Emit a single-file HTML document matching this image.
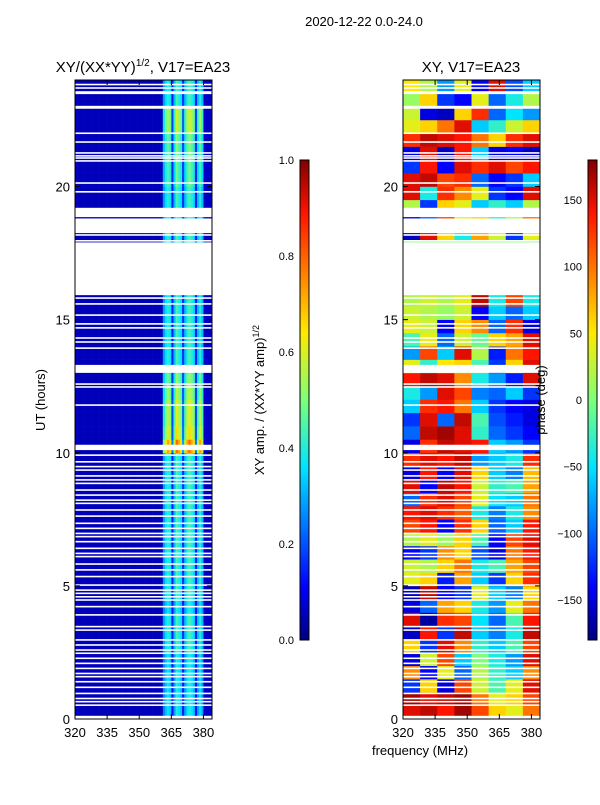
<!DOCTYPE html>
<html><head><meta charset="utf-8"><style>
body{margin:0;background:#fff;}
svg text{font-family:"Liberation Sans",sans-serif;fill:#000;}
</style></head><body>
<svg id="c" width="600" height="800" xmlns="http://www.w3.org/2000/svg">
<defs>
<linearGradient id="jet" x1="0" y1="1" x2="0" y2="0">
<stop offset="0" stop-color="#000080"/><stop offset="0.11" stop-color="#0000ff"/><stop offset="0.36" stop-color="#00e4ff"/><stop offset="0.5" stop-color="#7dff7a"/><stop offset="0.64" stop-color="#ffea00"/><stop offset="0.89" stop-color="#ff1300"/><stop offset="1" stop-color="#800000"/>
</linearGradient>
</defs>
<text x="364" y="26" font-size="13" text-anchor="middle">2020-12-22 0.0-24.0</text>
<text x="143" y="72" font-size="15" text-anchor="middle">XY/(XX*YY)<tspan font-size="10" dy="-6">1/2</tspan><tspan dy="6">, V17=EA23</tspan></text>
<text x="471" y="72" font-size="15" text-anchor="middle">XY, V17=EA23</text>
<g id="left"></g>
<g id="right"></g>
<rect x="75" y="80" width="137" height="639" fill="none" stroke="#000"/>
<rect x="403" y="80" width="137" height="639" fill="none" stroke="#000"/>
<g id="axes"></g>
<text transform="translate(45,400) rotate(-90)" font-size="13" text-anchor="middle">UT (hours)</text>
<text x="420" y="755" font-size="13" text-anchor="middle">frequency (MHz)</text>
<rect x="300" y="160" width="9" height="480" fill="url(#jet)" stroke="#000"/>
<rect x="588" y="160" width="9" height="480" fill="url(#jet)" stroke="#000"/>
<text transform="translate(264,400) rotate(-90)" font-size="13" text-anchor="middle">XY amp. / (XX*YY amp)<tspan font-size="9" dy="-5">1/2</tspan></text>
<text transform="translate(545,400) rotate(-90)" font-size="13" text-anchor="middle">phase (deg)</text>
</svg>
<script>
const colFreqs=[320,321,322,323,324,325,326,327,328,329,330,331,332,333,334,335,336,337,338,339,340,341,342,343,344,345,346,347,348,349,350,351,352,353,354,355,356,357,358,359,360,361,362,363,364,365,366,367,368,369,370,371,372,373,374,375,376,377,378,379,380,381,382,383];
const colProfile=[0.05,0.05,0.05,0.05,0.05,0.05,0.05,0.05,0.05,0.05,0.05,0.05,0.05,0.05,0.05,0.05,0.05,0.05,0.05,0.05,0.05,0.05,0.05,0.05,0.05,0.05,0.05,0.05,0.05,0.05,0.05,0.05,0.05,0.05,0.05,0.05,0.05,0.05,0.05,0.05,0.05,0.28,0.36,0.4,0.36,0.14,0.32,0.44,0.4,0.36,0.16,0.32,0.4,0.44,0.4,0.36,0.14,0.32,0.4,0.32,0.06,0.06,0.06,0.06];
const rowGain=[0.9,0.9,0.9,0.9,0.9,1,1,1,0.9,1,1,1,1,1,1,1,1,1,1,1,1.8,1.5,1.4,1.4,1.3,1.2,1,1,1,1,1,1,1,1,1,1,1,1,1,1,1.1,1.1,1.15,1.15,1.35,1.35,1,1];
const phaseGrid=[
[150,160,140,170,120,60,40,100],[170,150,160,170,100,40,60,120],[-120,60,-150,120,30,-20,40,150],[90,-140,40,-100,20,-30,-60,90],
[-150,30,120,-60,0,-40,-80,150],[60,-120,150,90,-30,-60,-20,120],[-160,140,-120,160,-60,-90,-40,160],[150,-170,130,120,-50,-100,-20,140],
[-150,-100,80,60,-40,-80,40,100],[-160,160,-140,-120,40,-60,-90,60],[40,60,-130,80,-60,-120,60,130],[30,20,60,100,-40,-20,80,120],
[-140,-120,90,60,-110,-150,100,140],[20,40,10,60,-20,-140,120,150],[120,140,-140,130,60,-100,-60,140],[140,150,130,110,-40,-90,-40,90],
[-100,130,150,120,40,-50,-60,100],[150,-140,160,140,30,-30,-20,80],[-150,140,-140,150,60,-60,-90,70],[130,150,140,160,-80,-60,-40,130],
[-150,130,160,150,140,-60,-80,-120],[-100,160,170,150,-30,-100,-120,-140],[-120,150,-100,160,-20,-110,-130,-150],[-60,130,140,100,-60,-120,-140,-150],
[-40,-80,150,120,-90,-100,-60,-120],[140,160,150,90,-40,-80,-130,150],[40,-30,50,60,-20,-120,60,150],[-80,120,-60,150,20,-130,100,140],
[-20,40,-100,30,-10,60,80,150],[40,30,-140,60,90,-100,130,-150],[30,20,10,30,-140,-60,-100,-60],[20,30,20,40,160,-40,120,-40],
[0,0,0,0,0,0,0,0],[0,0,0,0,0,0,0,0],[0,0,0,0,0,0,0,0],[0,0,0,0,0,0,0,0],
[-160,150,60,-40,80,30,-120,40],[-150,-100,120,40,60,-30,20,100],[20,-120,60,40,-60,-30,-60,20],[150,-40,130,90,40,-120,-140,150],
[150,160,120,130,-100,-140,-120,-60],[-120,140,-140,150,130,150,120,140],[-150,150,-160,140,-60,-150,-140,-160],[130,160,150,140,100,60,130,150],
[40,60,100,150,-60,-30,30,60],[30,-150,-160,60,130,-100,-50,-80],[10,60,-120,-140,40,-100,-40,20],[50,20,-80,40,-140,150,-110,-60]];
const phaseFreqs=[320,328,336,344,352,360,368,376];
const thickGaps=[[15.92,17.9],[18.25,18.8],[18.85,19.2],[13.0,13.3],[10.1,10.3],[0.0,0.12]];
const thinGaps=[23.83,23.7,23.55,23.5,23.0,22.95,22.0,21.67,21.26,21.15,21.07,20.96,20.13,19.8,18.18,17.96,15.81,15.59,15.17,14.84,14.69,14.31,14.16,13.93,12.58,12.47,11.79,9.91,9.66,9.48,9.35,9.13,8.98,8.85,8.60,8.41,8.22,8.10,7.85,7.62,7.35,7.16,6.97,6.85,6.66,6.41,6.22,6.10,5.82,5.60,5.35,5.03,4.84,4.72,4.59,4.47,4.22,3.91,3.47,3.34,2.97,2.78,2.59,2.47,2.28,2.09,1.90,1.71,1.59,1.40,1.19,0.96,0.77,0.65,0.52];
const xTicks=[320,335,350,365,380];
const yTicks=[0,5,10,15,20];
const ampTicks=[0.0,0.2,0.4,0.6,0.8,1.0];
const phaseTicks=[-150,-100,-50,0,50,100,150];

const NS="http://www.w3.org/2000/svg";
const Y=h=>719-h*26.625;
const XL=f=>75+(f-320)*2.1406;
const XR=f=>403+(f-320)*2.1406;
function jet(v){v=Math.max(0,Math.min(1,v));
 const st=[[0,0,0,128],[0.11,0,0,255],[0.36,0,228,255],[0.5,125,255,122],[0.64,255,234,0],[0.89,255,19,0],[1,128,0,0]];
 for(let i=1;i<st.length;i++){if(v<=st[i][0]){const a=st[i-1],b=st[i],t=(v-a[0])/(b[0]-a[0]);
 return `rgb(${Math.round(a[1]+t*(b[1]-a[1]))},${Math.round(a[2]+t*(b[2]-a[2]))},${Math.round(a[3]+t*(b[3]-a[3]))})`;}}return "#800000";}
function R(g,x,y,w,h,fill,name){const r=document.createElementNS(NS,"rect");
 r.setAttribute("x",x);r.setAttribute("y",y);r.setAttribute("width",w);r.setAttribute("height",h);r.setAttribute("fill",fill);
 
 
 g.appendChild(r);return r;}
function T(x,y,s,anchor,txt,name){const t=document.createElementNS(NS,"text");
 t.setAttribute("x",x);t.setAttribute("y",y);t.setAttribute("font-size",s);t.setAttribute("text-anchor",anchor);t.textContent=txt;
 
 
 document.getElementById("axes").appendChild(t);}
const L=document.getElementById("left"),Rg=document.getElementById("right");
rowGain.forEach((g,ri)=>{const y0=Y((ri+1)*0.5),hh=Y(ri*0.5)-y0;
 colFreqs.forEach((f,ci)=>{const v=colProfile[ci]*(colProfile[ci]>0.1?g:1);
  R(L,XL(f),y0,XL(f+1)-XL(f)+0.3,hh+0.3,jet(v),"amp-cell");});});
phaseGrid.forEach((row,ri)=>{const y0=Y((ri+1)*0.5),hh=Y(ri*0.5)-y0;
 row.forEach((p,ci)=>{const f=phaseFreqs[ci];
  R(Rg,XR(f),y0,XR(f+8)-XR(f)+0.3,hh+0.3,jet((p+180)/360),"phase-cell");});});
[[L,XL],[Rg,XR]].forEach(([g,X])=>{
 thickGaps.forEach(([a,b])=>R(g,X(320),Y(b),137,Y(a)-Y(b),"#fff","flagged-gap"));
 thinGaps.forEach(h=>R(g,X(320),Y(h)-0.8,137,1.6,"#fff","flagged-row"));});
const ax=document.getElementById("axes");
function line(x1,y1,x2,y2,name){const l=document.createElementNS(NS,"line");
 l.setAttribute("x1",x1);l.setAttribute("y1",y1);l.setAttribute("x2",x2);l.setAttribute("y2",y2);l.setAttribute("stroke","#000");
 
 
 ax.appendChild(l);}
[XL,XR].forEach(X=>{xTicks.forEach(f=>{line(X(f),719,X(f),714,"x-tick");line(X(f),80,X(f),85,"x-tick");
 T(X(f),737,13,"middle",String(f),"x-tick-label");});
 yTicks.forEach(h=>{line(X(320),Y(h),X(320)+5,Y(h),"y-tick");line(X(320)+137,Y(h),X(320)+132,Y(h),"y-tick");
 T(X(320)-5,Y(h)+5,13,"end",String(h),"y-tick-label");});});
ampTicks.forEach(v=>{const y=640-v*480;line(300,y,303,y,"amp-tick");
 T(294,y+4,11,"end",v.toFixed(1),"amp-tick-label");});
phaseTicks.forEach(v=>{const y=640-(v+180)/360*480;line(588,y,591,y,"phase-tick");
 T(582,y+4,11,"end",v<0?"\u2212"+(-v):String(v),"phase-tick-label");});
</script>
</body></html>
